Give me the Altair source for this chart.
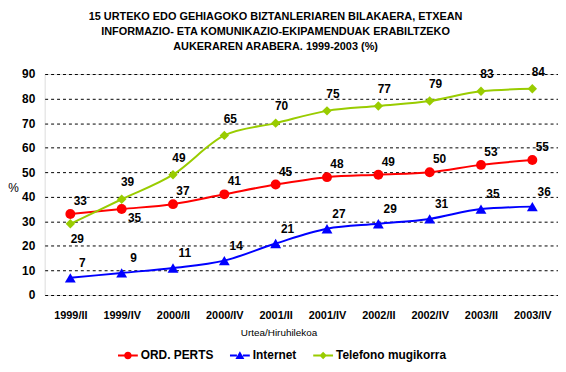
import altair as alt
import pandas as pd

periods = ["1999/II", "1999/IV", "2000/II", "2000/IV", "2001/II",
           "2001/IV", "2002/II", "2002/IV", "2003/II", "2003/IV"]
series_names = ["ORD. PERTS", "Internet", "Telefono mugikorra"]
ord_perts = [33, 35, 37, 41, 45, 48, 49, 50, 53, 55]
internet = [7, 9, 11, 14, 21, 27, 29, 31, 35, 36]
telefono = [29, 39, 49, 65, 70, 75, 77, 79, 83, 84]
colors = ["#FF0000", "#0000FF", "#99CC00"]
marker_shapes = ["circle", "triangle-up", "diamond"]
labels_below = [("ORD. PERTS", "1999/IV"), ("Telefono mugikorra", "1999/II")]
y_ticks = [0, 10, 20, 30, 40, 50, 60, 70, 80, 90]
title_lines = ["15 URTEKO EDO GEHIAGOKO BIZTANLERIAREN BILAKAERA, ETXEAN",
               "INFORMAZIO- ETA KOMUNIKAZIO-EKIPAMENDUAK ERABILTZEKO",
               "AUKERAREN ARABERA. 1999-2003 (%)"]

rows = []
for name, vals in zip(series_names, [ord_perts, internet, telefono]):
    for p, v in zip(periods, vals):
        rows.append({"period": p, "series": name, "value": v,
                     "below": (name, p) in labels_below})
df = pd.DataFrame(rows)

FONT = "Liberation Sans"

x_enc = alt.X("period:N", sort=periods, scale=alt.Scale(domain=periods),
              axis=alt.Axis(title="Urtea/Hiruhilekoa", labelAngle=0, ticks=False, domain=False,
                            labelFont=FONT, labelFontSize=11, labelFontWeight="bold",
                            labelColor="black", labelPadding=15,
                            titleFont=FONT, titleFontSize=10, titleFontWeight="normal",
                            titleColor="black", titleX=236, titleY=38,
                            titleBaseline="middle", titleAlign="center"))
y_enc = alt.Y("value:Q", scale=alt.Scale(domain=[0, 90], nice=False),
              axis=alt.Axis(title="%", values=y_ticks, ticks=False, domain=False,
                            grid=True, gridColor="black", gridDash=[3, 3], gridWidth=1,
                            labelFont=FONT, labelFontSize=12, labelFontWeight="bold",
                            labelColor="black", labelPadding=10,
                            titleFont=FONT, titleFontSize=12, titleFontWeight="normal",
                            titleColor="black", titleAngle=0, titleX=-32, titleY=115,
                            titleAlign="center", titleBaseline="middle"))

base = alt.Chart(df)

offsets = {"ORD. PERTS": (10, -13), "Internet": (12, -15), "Telefono mugikorra": (6, -17)}
below_offsets = {"ORD. PERTS": (13, 9), "Internet": (8, 14), "Telefono mugikorra": (7, 15)}
marker_sizes = {"ORD. PERTS": 100, "Internet": 120, "Telefono mugikorra": 90}

layers = []
for name, col, shp in zip(series_names, colors, marker_shapes):
    sel = base.transform_filter(alt.datum.series == name)
    layers.append(sel.mark_line(interpolate="monotone", strokeWidth=2, color=col).encode(
        x=x_enc, y=y_enc))
    layers.append(sel.mark_point(filled=True, size=marker_sizes[name], opacity=1,
                                 shape=shp, color=col).encode(x=x_enc, y=y_enc))

for name in series_names:
    dx, dy = offsets[name]
    layers.append(
        base.mark_text(font=FONT, fontSize=12, fontWeight="bold", color="black",
                       dx=dx, dy=dy, baseline="middle").encode(
            x=x_enc, y=y_enc, text="value:Q"
        ).transform_filter((alt.datum.series == name) & (alt.datum.below == False)))
    bdx, bdy = below_offsets[name]
    layers.append(
        base.mark_text(font=FONT, fontSize=12, fontWeight="bold", color="black",
                       dx=bdx, dy=bdy, baseline="middle").encode(
            x=x_enc, y=y_enc, text="value:Q"
        ).transform_filter((alt.datum.series == name) & (alt.datum.below == True)))

bars = "M-1,-0.1H-0.3V0.1H-1ZM0.3,-0.1H1V0.1H0.3Z"
legend_paths = [
    bars + "M0.38,0A0.38,0.38,0,1,1,-0.38,0A0.38,0.38,0,1,1,0.38,0Z",
    bars + "M0,-0.42L0.45,0.35L-0.45,0.35Z",
    bars + "M0,-0.38L0.38,0L0,0.38L-0.38,0Z",
]
legend_cfg = alt.Legend(title=None, orient="none", direction="horizontal",
                        legendX=74, legendY=274, symbolSize=400, symbolStrokeWidth=0,
                        symbolOpacity=1, labelFont=FONT, labelFontSize=12,
                        labelFontWeight="bold", labelColor="black", labelOffset=3,
                        columnPadding=16, padding=0)
legend_layer = base.mark_point(filled=True, size=0).encode(
    x=x_enc, y=y_enc,
    color=alt.Color("series:N", scale=alt.Scale(domain=series_names, range=colors),
                    legend=legend_cfg),
    shape=alt.Shape("series:N", scale=alt.Scale(domain=series_names, range=legend_paths),
                    legend=legend_cfg),
)
layers.append(legend_layer)

chart = alt.layer(*layers).properties(
    width=518, height=223,
    autosize=alt.AutoSizeParams(type="none"),
    padding={"left": 37, "top": 65, "right": 0, "bottom": 70},
    title=alt.TitleParams(text=title_lines, font=FONT, fontSize=11, fontWeight="bold",
                          color="black", anchor="middle", frame="group", dx=-26,
                          offset=3, lineHeight=15, baseline="bottom"),
).configure_view(stroke=None).configure(background="white")

chart.save("out.html", embed_options={"renderer": "svg", "actions": False})
